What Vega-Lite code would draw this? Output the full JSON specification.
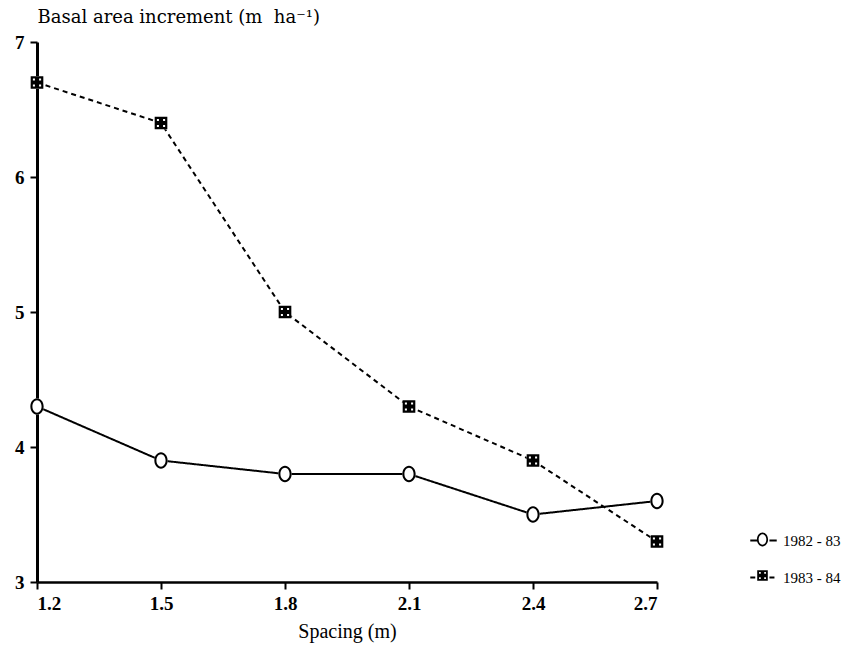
{
  "$schema": "https://vega.github.io/schema/vega-lite/v6.json",
  "width": 620,
  "height": 540,
  "autosize": {"type": "none"},
  "padding": {"left": 37, "top": 42, "right": 186, "bottom": 76},
  "background": "white",
  "config": {
    "view": {"stroke": null},
    "font": "Liberation Serif"
  },
  "data": {
    "values": [
      {"spacing": 1.2, "increment": 4.3, "period": "1982 - 83"},
      {"spacing": 1.5, "increment": 3.9, "period": "1982 - 83"},
      {"spacing": 1.8, "increment": 3.8, "period": "1982 - 83"},
      {"spacing": 2.1, "increment": 3.8, "period": "1982 - 83"},
      {"spacing": 2.4, "increment": 3.5, "period": "1982 - 83"},
      {"spacing": 2.7, "increment": 3.6, "period": "1982 - 83"},
      {"spacing": 1.2, "increment": 6.7, "period": "1983 - 84"},
      {"spacing": 1.5, "increment": 6.4, "period": "1983 - 84"},
      {"spacing": 1.8, "increment": 5.0, "period": "1983 - 84"},
      {"spacing": 2.1, "increment": 4.3, "period": "1983 - 84"},
      {"spacing": 2.4, "increment": 3.9, "period": "1983 - 84"},
      {"spacing": 2.7, "increment": 3.3, "period": "1983 - 84"}
    ]
  },
  "encoding": {
    "x": {
      "field": "spacing", "type": "quantitative",
      "scale": {"domain": [1.2, 2.7], "nice": false, "zero": false},
      "axis": {
        "values": [1.2, 1.5, 1.8, 2.1, 2.4, 2.7],
        "format": ".1f",
        "title": "Spacing (m)",
        "grid": false,
        "domainColor": "black", "domainWidth": 2.5,
        "tickColor": "black", "tickWidth": 2, "tickSize": 7,
        "labelFont": "Liberation Serif", "labelFontSize": 19, "labelColor": "black",
        "labelPadding": 5, "labelFontWeight": "bold",
        "titleFont": "Liberation Serif", "titleFontSize": 20, "titleFontWeight": "normal", "titleColor": "black",
        "titlePadding": 8
      }
    },
    "y": {
      "field": "increment", "type": "quantitative",
      "scale": {"domain": [3, 7], "nice": false, "zero": false},
      "axis": {
        "values": [3, 4, 5, 6, 7],
        "title": "Basal area increment (m\u00a0 ha⁻¹)",
        "grid": false,
        "domainColor": "black", "domainWidth": 3,
        "tickColor": "black", "tickWidth": 2, "tickSize": 7,
        "labelFont": "Liberation Serif", "labelFontSize": 19, "labelColor": "black",
        "labelPadding": 6, "labelFontWeight": "bold",
        "titleFont": "DejaVu Serif", "titleFontSize": 18, "titleFontWeight": "normal", "titleColor": "black",
        "titleAngle": 0, "titleX": 0, "titleY": -25, "titleAlign": "left", "titleBaseline": "middle"
      }
    }
  },
  "layer": [
    {
      "mark": {"type": "line", "color": "black", "strokeWidth": 2},
      "encoding": {
        "strokeDash": {
          "field": "period", "type": "nominal",
          "scale": {"domain": ["1983 - 84", "1982 - 83"], "range": [[5, 4], [1, 0]]},
          "legend": {
            "title": null,
            "values": ["1982 - 83", "1983 - 84"],
            "orient": "none",
            "legendX": 712,
            "legendY": 484,
            "symbolType": "M-1,0L-0.45,0M0.45,0L1,0",
            "symbolSize": 700,
            "symbolStrokeWidth": 2,
            "symbolStrokeColor": "black",
            "rowPadding": 14,
            "labelFont": "Liberation Serif",
            "labelFontSize": 15,
            "labelColor": "black",
            "labelOffset": 5
          }
        }
      }
    },
    {
      "transform": [{"filter": "datum.period == '1982 - 83'"}],
      "mark": {"type": "point", "filled": true, "color": "white", "strokeWidth": 0, "opacity": 1, "size": 1000,
               "shape": "M-0.42,0A0.42,0.52 0 1,1 0.42,0A0.42,0.52 0 1,1 -0.42,0Z"}
    },
    {
      "transform": [{"filter": "datum.period == '1983 - 84'"}],
      "mark": {"type": "point", "filled": true, "color": "white", "strokeWidth": 0, "opacity": 1, "size": 1000,
               "shape": "M-0.4,-0.4L0.4,-0.4L0.4,0.4L-0.4,0.4Z"}
    },
    {
      "mark": {"type": "point", "filled": true, "color": "black", "strokeWidth": 0, "opacity": 1, "size": 1000},
      "encoding": {
        "shape": {
          "field": "period", "type": "nominal",
          "scale": {
            "domain": ["1982 - 83", "1983 - 84"],
            "range": [
              "M-0.42,0A0.42,0.52 0 1,1 0.42,0A0.42,0.52 0 1,1 -0.42,0ZM-0.29,0A0.29,0.39 0 1,0 0.29,0A0.29,0.39 0 1,0 -0.29,0Z",
              "M-0.4,-0.4L0.4,-0.4L0.4,0.4L-0.4,0.4ZM-0.26,-0.26L-0.26,-0.13L-0.13,-0.13L-0.13,-0.26ZM0.13,-0.26L0.13,-0.13L0.26,-0.13L0.26,-0.26ZM-0.26,0.13L-0.26,0.26L-0.13,0.26L-0.13,0.13ZM0.13,0.13L0.13,0.26L0.26,0.26L0.26,0.13Z"
            ]
          },
          "legend": {
            "title": null,
            "orient": "none",
            "legendX": 712,
            "legendY": 484,
            "symbolSize": 700,
            "symbolStrokeWidth": 0,
            "symbolOpacity": 1,
            "rowPadding": 14,
            "labelFont": "Liberation Serif",
            "labelFontSize": 15,
            "labelOffset": 5,
            "labelExpr": "''"
          }
        }
      }
    }
  ]
}
